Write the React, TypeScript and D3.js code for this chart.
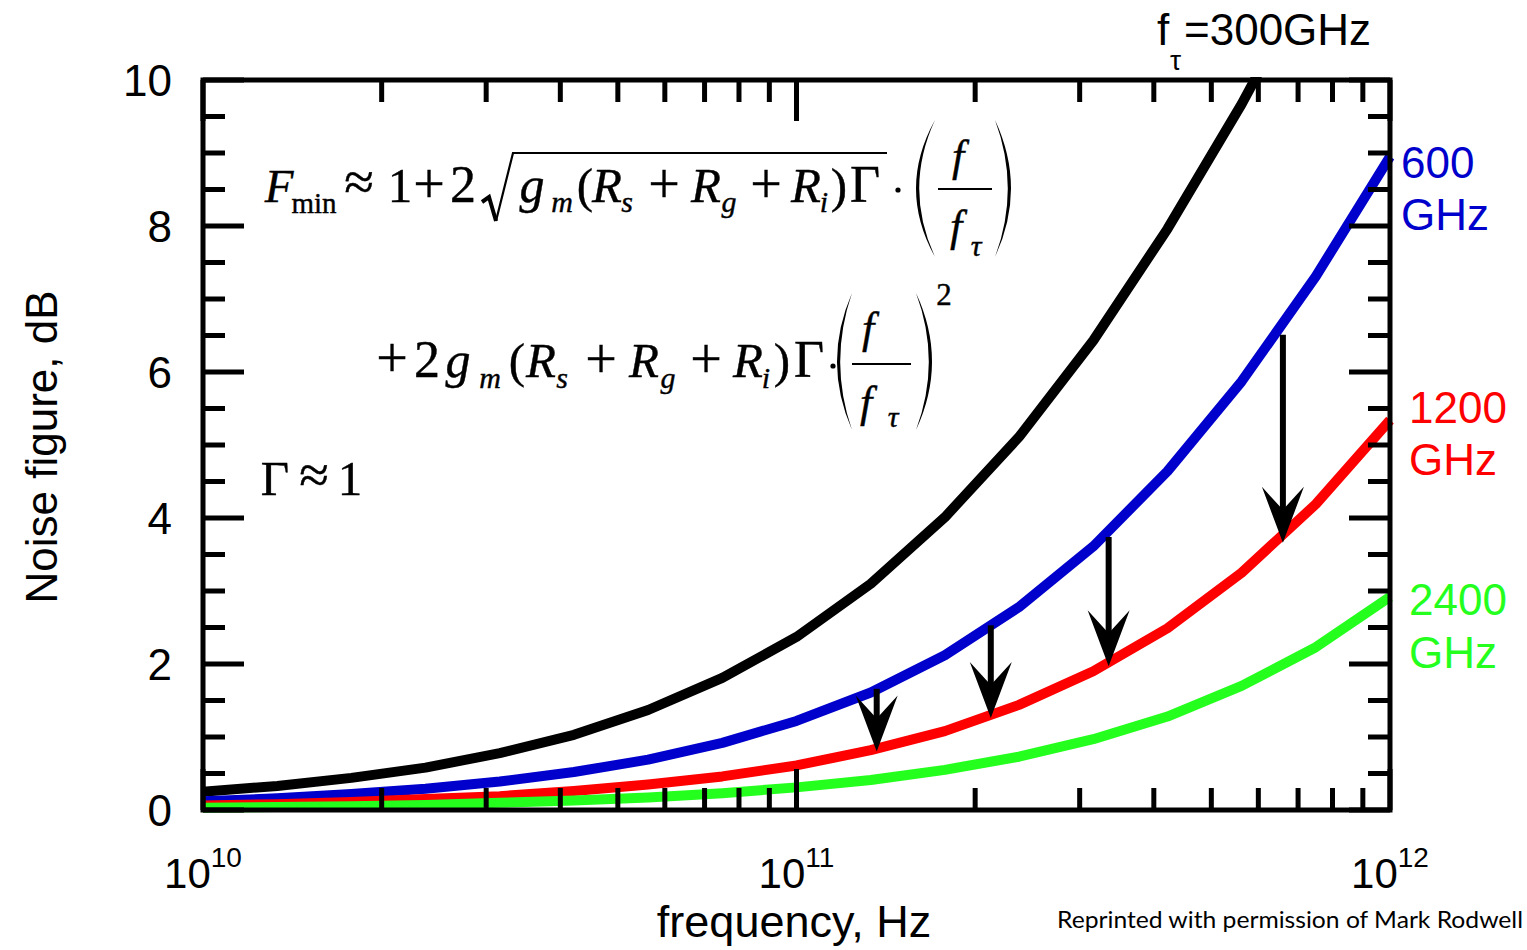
import React from "react";
import * as d3 from "d3";

// Frequency grid (Hz), eighth-decade steps from 10 GHz to 1 THz
const freqHz = [
  1.0e10, 1.334e10, 1.778e10, 2.371e10, 3.162e10, 4.217e10, 5.623e10, 7.499e10,
  1.0e11, 1.334e11, 1.778e11, 2.371e11, 3.162e11, 4.217e11, 5.623e11, 7.499e11, 1.0e12,
];

// Minimum noise figure (dB) for each transistor fT
const nf300 = [0.25, 0.33, 0.44, 0.58, 0.78, 1.03, 1.37, 1.81, 2.37, 3.1, 4.01, 5.11, 6.43, 7.96, 9.67, 11.55, 13.56];
const nf600 = [0.12, 0.16, 0.22, 0.29, 0.39, 0.52, 0.69, 0.92, 1.22, 1.61, 2.12, 2.78, 3.61, 4.64, 5.87, 7.31, 8.95];
const nf1200 = [0.06, 0.08, 0.11, 0.15, 0.19, 0.26, 0.35, 0.46, 0.61, 0.82, 1.08, 1.44, 1.9, 2.49, 3.25, 4.19, 5.34];
const nf2400 = [0.03, 0.04, 0.05, 0.07, 0.1, 0.13, 0.17, 0.23, 0.31, 0.41, 0.55, 0.73, 0.97, 1.28, 1.7, 2.23, 2.92];

// Arrows showing the drop in noise figure from fT = 600 GHz to 1200 GHz
const arrowFreq = [1.365e11, 2.125e11, 3.357e11, 6.6e11];
const arrowFrom = [1.66, 2.53, 3.74, 6.51];
const arrowTo = [0.8, 1.26, 1.97, 3.66];

const yLabelValues = [0, 2, 4, 6, 8, 10];
const xLabelDecades = [10, 11, 12];

const SANS = "'Liberation Sans', Arial, sans-serif";
const SERIF = "'Liberation Serif', 'Times New Roman', serif";

const BLUE = "#0000cc";
const RED = "#ff0000";
const GREEN = "#24ff1e";

const xScale = d3.scaleLog().domain([1e10, 1e12]).range([203, 1390]);
const yScale = d3.scaleLinear().domain([0, 10]).range([810, 80]);

const series = [
  { name: "300", values: nf300, color: "#000000" },
  { name: "600", values: nf600, color: BLUE },
  { name: "1200", values: nf1200, color: RED },
  { name: "2400", values: nf2400, color: GREEN },
];

const lineGen = d3
  .line<number>()
  .x((_, i) => xScale(freqHz[i]))
  .y((d) => yScale(d));

type EqProps = {
  s: string;
  x: number;
  y: number;
  size?: number;
  it?: boolean;
};

function Eq({ s, x, y, size = 47, it = false }: EqProps) {
  return (
    <text
      x={x}
      y={y}
      fontFamily={SERIF}
      fontSize={size}
      fontStyle={it ? "italic" : "normal"}
      textAnchor="middle"
      fill="#000"
      stroke="#000"
      strokeWidth={0.4}
    >
      {s}
    </text>
  );
}

function paren(xEnd: number, xMid: number, yTop: number, yBot: number, thick: number) {
  const ym = (yTop + yBot) / 2;
  const dir = xMid < xEnd ? 1 : -1;
  const c1 = 2 * xMid - xEnd;
  const c2 = 2 * (xMid + dir * thick) - xEnd;
  return `M${xEnd},${yTop} Q${c1},${ym} ${xEnd},${yBot} Q${c2},${ym} ${xEnd},${yTop} Z`;
}

export default function App() {
  const yTicks = d3.range(0, 10.01, 0.5);
  const xTicks = xScale.ticks();
  const isDecade = (v: number) => Math.abs(Math.log10(v) - Math.round(Math.log10(v))) < 1e-9;

  return (
    <svg
      width={1527}
      height={950}
      style={{ position: "absolute", left: 0, top: 0, background: "#fff" }}
    >
      <defs>
        <clipPath id="plotClip">
          <rect x={198} y={77} width={1196} height={738} />
        </clipPath>
      </defs>
      <rect width={1527} height={950} fill="#fff" />

      {/* curves */}
      <g clipPath="url(#plotClip)">
        {series.map((s) => (
          <path
            key={s.name}
            d={lineGen(s.values) || ""}
            fill="none"
            stroke={s.color}
            strokeWidth={10}
            strokeLinejoin="round"
          />
        ))}
      </g>

      {/* frame */}
      <rect x={203} y={80} width={1187} height={730} fill="none" stroke="#000" strokeWidth={5} />

      {/* y ticks, both sides */}
      {yTicks.map((v) => {
        const len = v % 2 === 0 ? 41 : 22;
        const y = yScale(v);
        return (
          <g key={`y${v}`}>
            <line x1={203} x2={203 + len} y1={y} y2={y} stroke="#000" strokeWidth={5} />
            <line x1={1390} x2={1390 - len} y1={y} y2={y} stroke="#000" strokeWidth={5} />
          </g>
        );
      })}

      {/* x ticks, top and bottom */}
      {xTicks.map((v) => {
        const len = isDecade(v) ? 41 : 22;
        const x = xScale(v);
        return (
          <g key={`x${v}`}>
            <line x1={x} x2={x} y1={810} y2={810 - len} stroke="#000" strokeWidth={5} />
            <line x1={x} x2={x} y1={80} y2={80 + len} stroke="#000" strokeWidth={5} />
          </g>
        );
      })}

      {/* arrows */}
      {arrowFreq.map((f, i) => {
        const x = xScale(f);
        const y0 = yScale(arrowFrom[i]);
        const tip = yScale(arrowTo[i]);
        const barb = tip - 56;
        const notch = tip - 33;
        return (
          <g key={`a${i}`}>
            <line x1={x} x2={x} y1={y0} y2={notch + 2} stroke="#000" strokeWidth={6} />
            <path
              d={`M${x},${tip} L${x - 21},${barb} L${x},${notch} L${x + 21},${barb} Z`}
              fill="#000"
            />
          </g>
        );
      })}

      {/* y tick labels */}
      {yLabelValues.map((v) => (
        <text
          key={`yl${v}`}
          x={172}
          y={yScale(v) + 15.5}
          textAnchor="end"
          fontFamily={SANS}
          fontSize={44}
          fill="#000"
        >
          {v}
        </text>
      ))}

      {/* x tick labels */}
      {xLabelDecades.map((e) => (
        <text
          key={`xl${e}`}
          x={xScale(Math.pow(10, e))}
          y={888}
          textAnchor="middle"
          fontFamily={SANS}
          fontSize={42}
          fill="#000"
        >
          <tspan>10</tspan>
          <tspan dy={-21} fontSize={28}>
            {e}
          </tspan>
        </text>
      ))}

      {/* axis titles */}
      <text x={794} y={937} textAnchor="middle" fontFamily={SANS} fontSize={45} fill="#000">
        frequency, Hz
      </text>
      <text
        transform="translate(57,447) rotate(-90)"
        textAnchor="middle"
        fontFamily={SANS}
        fontSize={44}
        fill="#000"
      >
        Noise figure, dB
      </text>

      {/* fT labels */}
      <text x={1157} y={45} fontFamily={SANS} fontSize={44} fill="#000">f</text>
      <text x={1170} y={70} fontFamily={SANS} fontSize={28} fill="#000">τ</text>
      <text x={1184} y={45} fontFamily={SANS} fontSize={44} fill="#000">=300GHz</text>

      <text x={1401} y={178} fontFamily={SANS} fontSize={44} fill={BLUE}>600</text>
      <text x={1401} y={230} fontFamily={SANS} fontSize={44} fill={BLUE}>GHz</text>
      <text x={1409} y={423} fontFamily={SANS} fontSize={44} fill={RED}>1200</text>
      <text x={1409} y={475} fontFamily={SANS} fontSize={44} fill={RED}>GHz</text>
      <text x={1409} y={615} fontFamily={SANS} fontSize={44} fill={GREEN}>2400</text>
      <text x={1409} y={668} fontFamily={SANS} fontSize={44} fill={GREEN}>GHz</text>

      <text
        x={1057}
        y={928}
        fontFamily="Lato, 'Open Sans', sans-serif"
        fontSize={23}
        textLength={466}
        lengthAdjust="spacingAndGlyphs"
        fill="#000"
      >
        Reprinted with permission of Mark Rodwell
      </text>

      {/* noise figure formula, first line */}
      <Eq s="F" x={279} y={202} it />
      <Eq s="min" x={314} y={213} size={29} />
      <Eq s="≈" x={359} y={200} size={54} />
      <Eq s="1" x={400} y={202} size={49} />
      <Eq s="+" x={429} y={203} size={56} />
      <Eq s="2" x={463} y={202} size={52} />
      <path d="M482,202 L489,197 L496,221" fill="none" stroke="#000" strokeWidth={4} />
      <path d="M496,221 L513,153 L887,153" fill="none" stroke="#000" strokeWidth={2.2} />
      <Eq s="g" x={532} y={202} size={50} it />
      <Eq s="m" x={562} y={212} size={30} it />
      <Eq s="(" x={585} y={202} size={49} />
      <Eq s="R" x={607} y={202} size={49} it />
      <Eq s="s" x={627} y={212} size={30} it />
      <Eq s="+" x={664} y={203} size={56} />
      <Eq s="R" x={706} y={202} size={49} it />
      <Eq s="g" x={729} y={212} size={30} it />
      <Eq s="+" x={766} y={203} size={56} />
      <Eq s="R" x={806} y={202} size={49} it />
      <Eq s="i" x={824} y={212} size={30} it />
      <Eq s=")" x={839} y={202} size={49} />
      <Eq s="Γ" x={865} y={202} size={52} />
      <circle cx={898} cy={190} r={2.6} fill="#000" />
      <path d={paren(935, 916, 120, 257, 3.2)} fill="#000" />
      <Eq s="f" x={958} y={171} size={44} it />
      <line x1={938} x2={992} y1={189} y2={189} stroke="#000" strokeWidth={2.2} />
      <Eq s="f" x={956} y={241} size={44} it />
      <Eq s="τ" x={976} y={256} size={30} it />
      <path d={paren(995, 1011, 120, 257, 3.2)} fill="#000" />

      {/* second line */}
      <Eq s="+" x={392} y={377} size={56} />
      <Eq s="2" x={427} y={377} size={52} />
      <Eq s="g" x={458} y={377} size={50} it />
      <Eq s="m" x={490} y={388} size={30} it />
      <Eq s="(" x={517} y={377} size={49} />
      <Eq s="R" x={541} y={377} size={49} it />
      <Eq s="s" x={562} y={388} size={30} it />
      <Eq s="+" x={601} y={378} size={56} />
      <Eq s="R" x={644} y={377} size={49} it />
      <Eq s="g" x={668} y={388} size={30} it />
      <Eq s="+" x={706} y={378} size={56} />
      <Eq s="R" x={748} y={377} size={49} it />
      <Eq s="i" x={766} y={388} size={30} it />
      <Eq s=")" x={782} y={377} size={49} />
      <Eq s="Γ" x={809} y={377} size={52} />
      <circle cx={833} cy={366} r={2.6} fill="#000" />
      <path d={paren(852, 837, 293, 430, 3.2)} fill="#000" />
      <Eq s="f" x={868} y={343} size={44} it />
      <line x1={852} x2={911} y1={364} y2={364} stroke="#000" strokeWidth={2.2} />
      <Eq s="f" x={866} y={417} size={44} it />
      <Eq s="τ" x={893} y={427} size={30} it />
      <path d={paren(916, 932, 293, 430, 3.2)} fill="#000" />
      <Eq s="2" x={944} y={305} size={31} />

      {/* Gamma note */}
      <Eq s="Γ" x={275} y={495} size={49} />
      <Eq s="≈" x={314} y={493} size={54} />
      <Eq s="1" x={350} y={495} size={49} />
    </svg>
  );
}
